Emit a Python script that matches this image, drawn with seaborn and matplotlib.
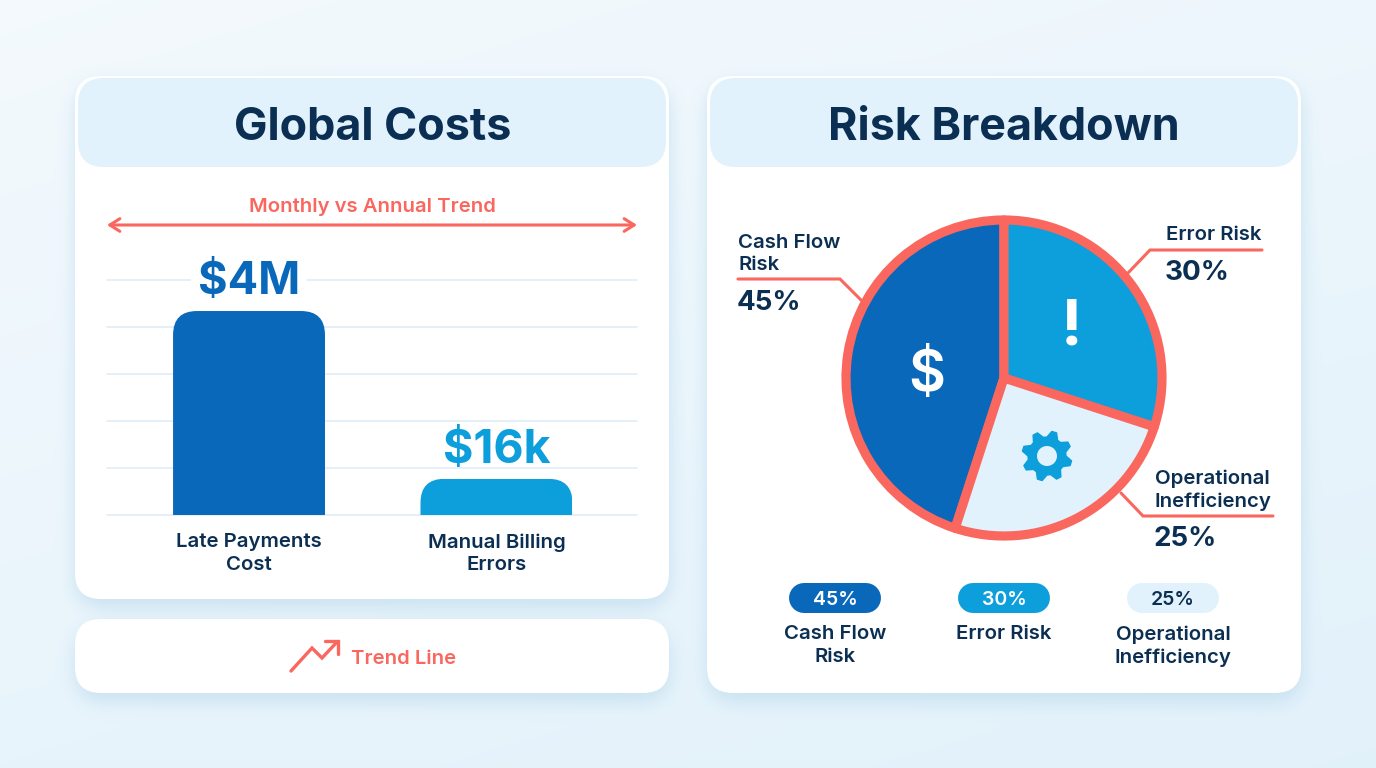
from __future__ import annotations

import numpy as np
import pandas as pd
import matplotlib
matplotlib.use("Agg")
import matplotlib.pyplot as plt
import seaborn as sns
from matplotlib.patches import Circle, FancyBboxPatch, Polygon

W, H = 1376, 768

# left panel
cost_items = ["Late Payments\nCost", "Manual Billing\nErrors"]
cost_bar_heights = [4.34, 0.77]  # read against the five gridline bands
cost_bar_labels = ["$4M", "$16k"]
cost_colors = ["#0A68BA", "#0C9FDB"]

# right panel
risk_names = ["Cash Flow\nRisk", "Error Risk", "Operational\nInefficiency"]
risk_shares = [45, 30, 25]
risk_colors = ["#0A68BA", "#0C9FDB", "#E1F2FC"]

NAVY = "#0B2F52"
CORAL = "#F9675F"
GRID = "#DCEBF5"
HEADER = "#E1F2FC"


def rounded_mask(x0: int, y0: int, x1: int, y1: int, r: int) -> np.ndarray:
    yy, xx = np.mgrid[0:H, 0:W]
    dx = np.maximum(np.maximum(x0 + r - xx, xx - (x1 - r)), 0)
    dy = np.maximum(np.maximum(y0 + r - yy, yy - (y1 - r)), 0)
    return (dx ** 2 + dy ** 2 <= r ** 2).astype(float)


def blur(img: np.ndarray, size: int) -> np.ndarray:
    kernel = np.ones(size) / size
    for _ in range(3):
        img = np.apply_along_axis(lambda v: np.convolve(v, kernel, mode="same"), 0, img)
        img = np.apply_along_axis(lambda v: np.convolve(v, kernel, mode="same"), 1, img)
    return img


def background() -> np.ndarray:
    yy, xx = np.mgrid[0:H, 0:W]
    t = (0.35 * xx / W + 0.65 * yy / H)[..., None]
    top = np.array([0.955, 0.978, 0.992])
    bottom = np.array([0.885, 0.945, 0.982])
    base = top * (1 - t) + bottom * t
    masks = (
        rounded_mask(75, 84, 669, 607, 24)
        + rounded_mask(75, 627, 669, 701, 24)
        + rounded_mask(707, 84, 1301, 701, 24)
    )
    shadow = np.clip(blur(masks, 17), 0, 1)[..., None] * 0.7
    tint = np.array([0.74, 0.86, 0.93])
    return base * (1 - shadow) + tint * shadow


def card(ax, x0, y0, x1, y1, r=26, **kw):
    patch = FancyBboxPatch(
        (x0 + r, y0 + r), x1 - x0 - 2 * r, y1 - y0 - 2 * r,
        boxstyle=f"round,pad={r},rounding_size={r}", **kw,
    )
    ax.add_patch(patch)
    return patch


def px_axes(fig, x0, y0, x1, y1, **kw):
    return fig.add_axes([x0 / W, 1 - y1 / H, (x1 - x0) / W, (y1 - y0) / H], **kw)


def main() -> None:
    sns.set_theme(style="white")
    plt.rcParams["font.family"] = ["Inter", "Roboto", "DejaVu Sans"]

    fig = plt.figure(figsize=(W / 100, H / 100), dpi=100)

    under = px_axes(fig, 0, 0, W, H, zorder=0)
    under.imshow(background(), extent=(0, W, H, 0), aspect="auto", zorder=0)
    under.set_xlim(0, W)
    under.set_ylim(H, 0)
    under.axis("off")

    for box in [(75, 76, 669, 599), (75, 619, 669, 693), (707, 76, 1301, 693)]:
        card(under, *box, facecolor="white", edgecolor="white", linewidth=0)
    card(under, 78, 78, 666, 167, facecolor=HEADER, linewidth=0)
    card(under, 710, 78, 1298, 167, facecolor=HEADER, linewidth=0)

    under.text(372.5, 128, "Global Costs", ha="center", va="center",
               fontsize=32.3, fontweight="bold", color=NAVY)
    under.text(1003.5, 128, "Risk Breakdown", ha="center", va="center",
               fontsize=32.3, fontweight="bold", color=NAVY)

    under.text(372, 207, "Monthly vs Annual Trend", ha="center", va="center",
               fontsize=14.6, fontweight="semibold", color=CORAL)
    under.annotate("", xy=(637, 225), xytext=(107, 225),
                   arrowprops=dict(arrowstyle="<->,head_length=0.6,head_width=0.38",
                                   color=CORAL, lw=2.2, shrinkA=0, shrinkB=0))

    # bars
    ax = px_axes(fig, 107, 280, 637, 515, zorder=2)
    ax.patch.set_alpha(0)
    bars = pd.DataFrame({"item": cost_items, "height": cost_bar_heights})
    sns.barplot(data=bars, x="item", y="height", hue="item", palette=cost_colors,
                width=0.614, saturation=1, legend=False, ax=ax)
    ax.set_xlim(-0.574, 1.568)
    ax.set_ylim(0, 5)
    ax.set_yticks(range(6))
    ax.set_yticklabels([])
    ax.set_xlabel("")
    ax.set_ylabel("")
    ax.grid(axis="y", color=GRID, linewidth=1.1)
    ax.set_axisbelow(True)
    sns.despine(ax=ax, left=True, bottom=True, top=True, right=True)
    ax.tick_params(axis="both", length=0)
    ax.tick_params(axis="x", pad=13)
    for lab in ax.get_xticklabels():
        lab.set_fontsize(14.7)
        lab.set_fontweight("semibold")
        lab.set_color(NAVY)
        lab.set_linespacing(1.33)
    for gl in ax.get_ygridlines():
        gl.set_clip_on(False)

    fig.canvas.draw()
    to_under = under.transData.inverted()
    for i, (container, label, color) in enumerate(zip(ax.containers, cost_bar_labels, cost_colors)):
        # round only the top corners: clip to a rounded box that runs past the baseline
        rect = container[0]
        (bx0, by0), (bx1, by1) = to_under.transform(rect.get_window_extent().get_points())
        top, bottom = min(by0, by1), max(by0, by1)
        r = 24
        clip = FancyBboxPatch(
            (bx0 + r, top + r), bx1 - bx0 - 2 * r, bottom - top,
            boxstyle=f"round,pad={r},rounding_size={r}",
            transform=under.transData, facecolor="none", linewidth=0,
        )
        rect.set_clip_path(clip)
        rect.set_linewidth(0)
        # only the tall bar's label breaks the gridline behind it
        box = dict(facecolor="white", edgecolor="none", pad=5) if i == 0 else None
        ax.bar_label(container, labels=[label], padding=5.5 if i == 0 else 4,
                     fontsize=32.5 if i == 0 else 33.5,
                     fontweight="bold", color=color, bbox=box)

    # trend card
    under.plot([291, 312, 322, 337], [671, 648, 658, 642], color=CORAL, lw=2.4,
               solid_capstyle="round", solid_joinstyle="miter")
    under.plot([325, 338, 338], [641, 641, 654], color=CORAL, lw=2.4,
               solid_capstyle="round", solid_joinstyle="miter")
    under.text(351, 659, "Trend Line", ha="left", va="center", fontsize=14.6,
               fontweight="semibold", color=CORAL)

    # pie
    pie_ax = px_axes(fig, 834, 208, 1174, 548, zorder=2)
    pie_ax.patch.set_alpha(0)
    pie_ax.pie(risk_shares, colors=risk_colors, startangle=252, counterclock=False,
               radius=1.0, center=(0, 0),
               wedgeprops=dict(edgecolor=CORAL, linewidth=6.6, joinstyle="round"))
    pie_ax.set_xlim(-170 / 158, 170 / 158)
    pie_ax.set_ylim(-170 / 158, 170 / 158)

    over = px_axes(fig, 0, 0, W, H, zorder=3)
    over.set_xlim(0, W)
    over.set_ylim(H, 0)
    over.axis("off")

    over.text(927, 376, "$", ha="center", va="center", fontsize=41, fontweight="semibold", color="white")
    over.text(1072, 328, "!", ha="center", va="center", fontsize=46, fontweight="bold", color="white")

    # gear icon
    gx, gy, teeth = 1047, 456, 8
    angles = np.linspace(0, 2 * np.pi, teeth * 4, endpoint=False) + np.pi / 8 - np.pi / 16
    radii = np.tile([25, 25, 19, 19], teeth)
    gear = Polygon(np.c_[gx + radii * np.cos(angles), gy + radii * np.sin(angles)],
                   closed=True, facecolor="#0C9FDB", edgecolor="#0C9FDB", linewidth=1, joinstyle="round")
    over.add_patch(gear)
    over.add_patch(Circle((gx, gy), 10, facecolor=HEADER, edgecolor="none"))

    # callouts
    callouts = [
        ([738, 840, 862], [279, 279, 301]),
        ([1262, 1150, 1128], [250, 250, 273]),
        ([1273, 1143, 1121], [516, 516, 493]),
    ]
    for xs, ys in callouts:
        under.plot(xs, ys, color=CORAL, lw=2.2, solid_joinstyle="miter")

    label_kw = dict(ha="left", va="center", fontsize=14.7, fontweight="semibold",
                    color=NAVY, linespacing=1.33)
    pct_kw = dict(ha="left", va="center", fontsize=20, fontweight="bold", color=NAVY)
    for (x, y_lab, y_pct), name, share in zip(
        [(738, 254, 303), (1166, 235, 273), (1155, 490, 539)], risk_names, risk_shares
    ):
        under.text(x, y_lab, name, **label_kw)
        under.text(x - 1.5, y_pct, f"{share}%", **pct_kw)

    # bottom legend pills
    for cx, name, share, color in zip([835, 1004, 1173], risk_names, risk_shares, risk_colors):
        under.plot([cx - 31, cx + 31], [598, 598], color=color, lw=21.6, solid_capstyle="round")
        under.text(cx, 600, f"{share}%", ha="center", va="center", fontsize=14,
                   fontweight="semibold", color=NAVY if color == HEADER else "white")
        under.text(cx, 625, name, ha="center", va="top", fontsize=14.7,
                   fontweight="semibold", color=NAVY, linespacing=1.33)

    fig.savefig("out.png", dpi=100)
    plt.close(fig)


if __name__ == "__main__":
    main()
